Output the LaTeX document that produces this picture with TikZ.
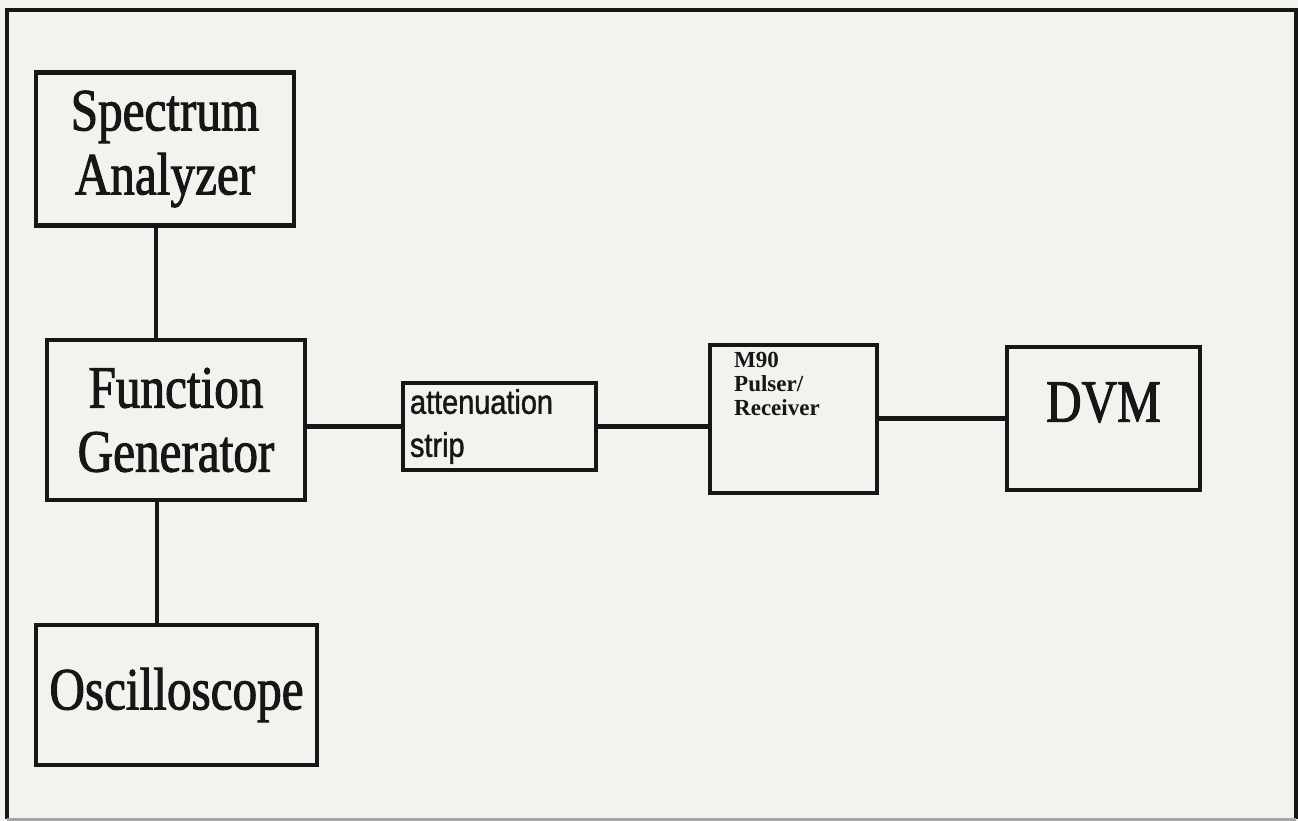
\documentclass[tikz,border=0pt]{standalone}
\usepackage{fontspec}
\newfontfamily\bigserif[FakeStretch=0.82,FakeBold=1.6]{Liberation Serif}
\newfontfamily\narrowsans[FakeStretch=0.85,FakeBold=1.2]{Liberation Sans}
\newfontfamily\smallserif{Liberation Serif}
\definecolor{bgcol}{RGB}{243,242,238}
\definecolor{ink}{RGB}{22,22,22}
\tikzset{
  box/.style={draw=ink, line width=4.2pt, rectangle, inner sep=0pt, text=ink},
  bigbox/.style={box, font=\bigserif\fontsize{60}{64}\selectfont, align=center},
  wire/.style={draw=ink, line width=4.4pt},
}
\begin{document}
\begin{tikzpicture}[x=1pt,y=-1pt]
\fill[bgcol] (0,0) rectangle (1298,821);
\useasboundingbox (0,0) rectangle (1298,821);
% outer frame
\draw[ink, line width=3.4pt] (7,819) -- (7,10) -- (1296,10) -- (1296,819);
\draw[gray!70, line width=3pt] (7,819) -- (1296,819);

\node[bigbox, minimum width=258pt, minimum height=153pt] (sa) at (165,149) {Spectrum\\Analyzer};
\node[bigbox, minimum width=258pt, minimum height=160pt] (fg) at (176,420) {Function\\Generator};
\node[bigbox, minimum width=281pt, minimum height=140pt] (osc) at (176.5,695) {Oscilloscope};
\node[box, minimum width=193pt, minimum height=87pt, font=\narrowsans\fontsize{34}{43}\selectfont, align=left, text width=179pt] (att) at (499.5,426.5) {attenuation\\strip};
\node[box, minimum width=167pt, minimum height=148pt] (m90) at (793.5,419) {};
\node[anchor=north west, inner sep=0pt, align=left, text=ink, font=\smallserif\bfseries\fontsize{23}{24}\selectfont] (m90txt) at (734,352) {M90\\Pulser/\\Receiver};
\node[bigbox, minimum width=193pt, minimum height=143pt, text depth=33pt] (dvm) at (1103.5,418.5) {DVM};

\coordinate (c1) at (156,0);
\coordinate (c2) at (157,0);
\draw[wire] (sa.south -| c1) -- (fg.north -| c1);
\draw[wire] (fg.south -| c2) -- (osc.north -| c2);
\draw[wire] (fg.east |- att.west) -- (att.west);
\draw[wire] (att.east) -- (att.east -| m90.west);
\draw[wire] (m90.east |- dvm.west) -- (dvm.west);
\end{tikzpicture}
\end{document}
